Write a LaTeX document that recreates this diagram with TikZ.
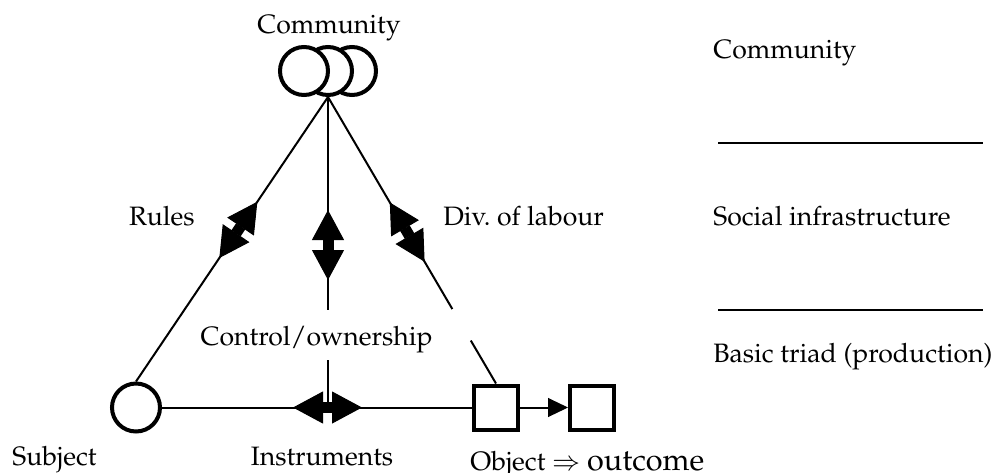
\documentclass[tikz,border=0pt]{standalone}
\usepackage[T1]{fontenc}
\usepackage{mathpazo}
\usetikzlibrary{arrows.meta,calc}
\tikzset{
  lbl/.style={inner sep=0pt, font=\fontsize{13.3pt}{16pt}\selectfont},
  wire/.style={line width=1pt},
  sepline/.style={line width=1pt},
  ring/.style={circle, draw, line width=2pt, fill=white, minimum size=24pt, inner sep=0pt},
  cell/.style={rectangle, draw, line width=2pt, fill=white, minimum size=22pt, inner sep=0pt},
  dbl/.style={line width=5.5pt,
    {Triangle[length=15pt,width=16pt,line width=0.5pt]}-{Triangle[length=15pt,width=16pt,line width=0.5pt]}},
  single/.style={line width=1pt, -{Triangle[length=10pt,width=9.5pt,line width=0.5pt]}},
}
\begin{document}
\begin{tikzpicture}[x=0.5pt,y=-0.5pt]
\useasboundingbox (0,0) rectangle (995,472);

% community: three overlapping rings, leftmost on top
\node[ring] (c3) at (352,71) {};
\node[ring] (c2) at (328,71) {};
\node[ring] (c1) at (304,71) {};
\coordinate (A) at (c2.south);

% basic triad
\node[ring] (S) at (136,407.5) {};
\node[cell] (sq1) at (496,407.5) {};
\node[cell] (sq2) at (592,407.5) {};

% left side: community -- subject
\draw[wire] (A) -- (S.north);
\coordinate (r1) at ($(A)!0.368!(S.north)$);
\coordinate (r2) at ($(A)!0.566!(S.north)$);
\draw[dbl] (r1) -- (r2);

% right side: community -- object, broken under the label
\coordinate (g1) at ($(A)!0.740!(sq1.north)$);
\coordinate (g2) at ($(A)!0.850!(sq1.north)$);
\draw[wire] (A) -- (g1);
\draw[wire] (g2) -- (sq1.north);
\coordinate (d1) at ($(A)!0.368!(sq1.north)$);
\coordinate (d2) at ($(A)!0.575!(sq1.north)$);
\draw[dbl] (d1) -- (d2);

% middle: community -- instruments
\coordinate (m0) at (328,310);
\coordinate (m1) at (328,360);
\draw[wire] (A) -- (m0);
\draw[wire] (m1) -- (m1 |- S.center);
\coordinate (v1) at (328,210);
\coordinate (v2) at (328,280);
\draw[dbl] (v1) -- (v2);

% bottom: subject -- object -- outcome
\draw[wire] (S) -- (sq1);
\coordinate (h1) at (293,407.5);
\coordinate (h2) at (362,407.5);
\draw[dbl] (h1) -- (h2);
\draw[single] (sq1) -- (sq2);

% labels of the triangle
\node[lbl, anchor=base] (tcom) at (329,33) {Community};
\node[lbl, anchor=base east] (trules) at (195,225) {Rules};
\node[lbl, anchor=base west] (tdiv) at (443,225) {Div.\ of labour};
\node[lbl, anchor=base east] (tctrl) at (433,345) {Control/ownership};
\node[lbl, anchor=base west] (tsub) at (12,465) {Subject};
\node[lbl, anchor=base] (tins) at (322,465) {Instruments};
\node[lbl, anchor=base west] (tobj) at (470,470) {Object $\Rightarrow$ {\fontsize{15.3pt}{18pt}\selectfont outcome}};

% levels column
\node[lbl, anchor=base west] (lcom) at (713,58) {Community};
\node[lbl, anchor=base west] (lsoc) at (713,225) {Social infrastructure};
\node[lbl, anchor=base west] (lbas) at (713,362) {Basic triad (production)};
\coordinate (s1a) at (718,143);
\coordinate (s1b) at (983,143);
\coordinate (s2a) at (718,310);
\coordinate (s2b) at (983,310);
\draw[sepline] (s1a) -- (s1b);
\draw[sepline] (s2a) -- (s2b);
\end{tikzpicture}
\end{document}
